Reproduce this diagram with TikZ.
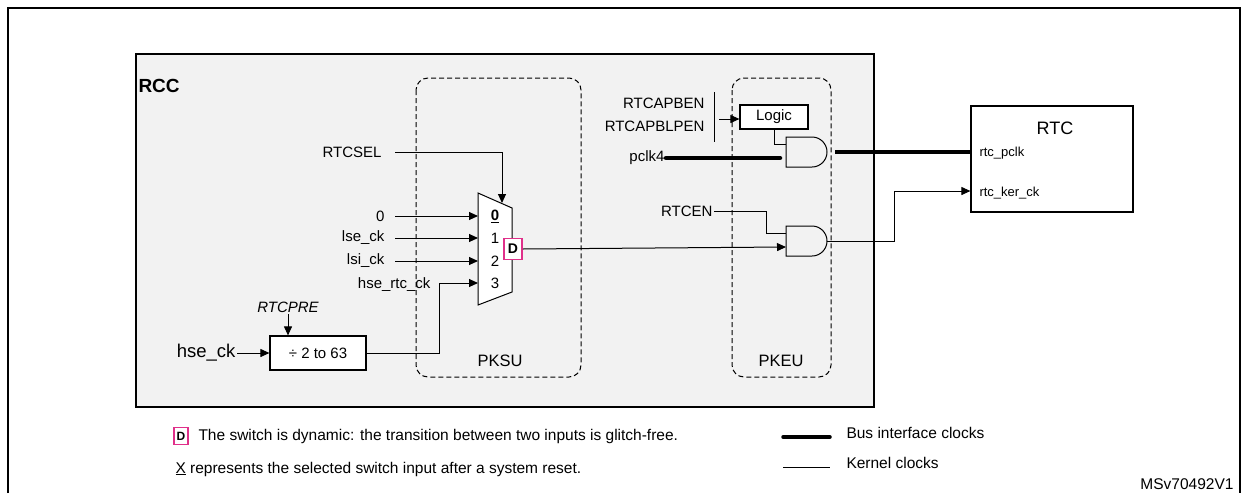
\documentclass[tikz,border=0pt]{standalone}
\usepackage{fontspec}
\setmainfont{Liberation Sans}
\usetikzlibrary{positioning,arrows.meta}
\definecolor{rccgray}{HTML}{F2F2F2}
\definecolor{dpink}{HTML}{E0308A}

% and gate: flat input side at (#2,#3), height 30
\newcommand{\andgate}[3]{%
  \draw[line width=1pt] (#2,#3) -- ++(26,0) arc[start angle=-90,end angle=90,radius=15] -- ++(-26,0) -- cycle;
  \coordinate (#1-in1) at (#2,#3+7);
  \coordinate (#1-in2) at (#2,#3+21);
  \coordinate (#1-out) at (#2+41,#3+15);
}

\begin{document}
\begin{tikzpicture}
[x=1pt,y=-1pt,line width=1pt,
 every node/.style={font=\fontsize{15}{17}\selectfont,inner sep=1pt},
 lbl/.style={anchor=east},
 legtext/.style={anchor=west,font=\fontsize{15.5}{17}\selectfont},
 sig/.style={line width=1pt,-{Triangle[length=9pt,width=8pt]}},
 bus/.style={line width=4.5pt,line cap=round},
 unit/.style={draw,dash pattern=on 5pt off 3pt,rounded corners=12pt,line width=1pt},
 blk/.style={draw,line width=1.2pt,minimum height=25pt,inner sep=2pt,fill=white},
 dbox/.style={draw=dpink,line width=1.5pt,font=\fontsize{14}{16}\selectfont\bfseries,inner sep=1pt,minimum width=18pt,minimum height=21pt,fill=white}]
\useasboundingbox (0,0) rectangle (1242,493);
\draw[line width=1.5pt] (8,493) -- (8,8) -- (1240,8) -- (1240,493);

% RCC frame and units
\draw[line width=2pt,fill=rccgray] (136,54) rectangle (874,407);
\node[anchor=west,font=\fontsize{19}{21}\selectfont\bfseries] (rcc) at (137,86) {RCC};
\draw[unit] (416,78) rectangle (581,377);
\draw[unit] (732,78) rectangle (831,377);
\node[font=\fontsize{16.5}{18}\selectfont] (pksu) at (500,361) {PKSU};
\node[font=\fontsize{16.5}{18}\selectfont] (pkeu) at (781,361) {PKEU};

% mux
\draw[fill=white] (478,193) -- (512,208) -- (512,292) -- (478,305) -- cycle;
\coordinate (muxtop) at (502,203);
\node (n0) at (495,216) {\bfseries\underline{0}};
\node (n1) at (495,238) {1};
\node (n2) at (495,261) {2};
\node (n3) at (495,283) {3};
\node[dbox] (dsw) at (513,249) {D};

\node[lbl] (rtcsel) at (383,152) {RTCSEL};
\draw[sig] (395,152) -| (muxtop);
\node[lbl] (in0) at (386,216) {0};
\node[lbl] (lse) at (386,238) {lse\_ck};
\node[lbl] (lsi) at (386,261) {lsi\_ck};
\draw[sig] (395,216) -- (478,216);
\draw[sig] (395,238) -- (478,238);
\draw[sig] (395,261) -- (478,261);
\node[lbl] (hsertc) at (432,285) {hse\_rtc\_ck};

% prescaler
\node[blk,minimum width=96pt,minimum height=34pt] (div) at (318,353) {÷ 2 to 63};
\node[font=\fontsize{15}{17}\selectfont\itshape] (rtcpre) at (288,307) {RTCPRE};
\draw[sig] (rtcpre.south) -- (div.north-|rtcpre);
\node[lbl,font=\fontsize{18.5}{20}\selectfont] (hse) at (237,353) {hse\_ck};
\draw[sig] (hse.east) -- (div.west);
\coordinate (hsein) at (478,283);
\draw[sig] (div.east) -| (439,283) -- (hsein);

% PKEU logic
\node[blk,minimum width=68pt,minimum height=24pt] (logic) at (774,117) {Logic};
\node[lbl] (apben) at (706,103) {RTCAPBEN};
\node[lbl] (apblpen) at (706,126) {RTCAPBLPEN};
\draw (714,92) -- (714,142);
\draw[sig] (719,119) -- (logic.west|-0,119);
\andgate{g1}{786}{137}
\andgate{g2}{786}{226}
\draw (logic.south) |- (g1-in1);
\node[lbl] (pclk) at (666,158) {pclk4};
\draw[bus] (pclk.east) -- ([xshift=-6pt]g1-in2);
\node[lbl] (rtcen) at (714,211) {RTCEN};
\draw (rtcen.east) -| (766,233) -- (g2-in1);
\draw[sig] (dsw.east) -- (g2-in2);

% RTC
\node[draw,line width=1.2pt,minimum width=162pt,minimum height=106pt] (rtc) at (1052,159) {};
\node[font=\fontsize{18}{20}\selectfont] (rtclbl) at (1055,128) {RTC};
\node[anchor=west,font=\fontsize{13}{15}\selectfont] (pclkin) at (978,153) {rtc\_pclk};
\node[anchor=west,font=\fontsize{13}{15}\selectfont] (kerin) at (978,193) {rtc\_ker\_ck};
\draw[bus,line cap=butt] ([xshift=8pt]g1-out) -- (rtc.west|-g1-out);
\draw[sig] (g2-out) -| (894,191) -- (rtc.west|-0,191);

% legend
\node[dbox,minimum width=14pt,minimum height=17pt,font=\fontsize{12}{14}\selectfont\bfseries] (dleg) at (181,436) {D};
\node[legtext] (dtxt) at (197,436) {The switch is dynamic: the transition between two inputs is glitch-free.};
\node[legtext] (xtxt) at (174,469) {\underline{X} represents the selected switch input after a system reset.};
\coordinate (busa) at (783,437); \coordinate (busb) at (830,437);
\coordinate (kera) at (783,467); \coordinate (kerb) at (830,467);
\draw[line width=3.5pt,line cap=round] (busa) -- (busb);
\draw (kera) -- (kerb);
\node[legtext] (bustxt) at (845,433) {Bus interface clocks};
\node[legtext] (kertxt) at (845,463) {Kernel clocks};
\node[anchor=east,font=\fontsize{15.5}{17}\selectfont] (ref) at (1235,484) {MSv70492V1};
\end{tikzpicture}
\end{document}
